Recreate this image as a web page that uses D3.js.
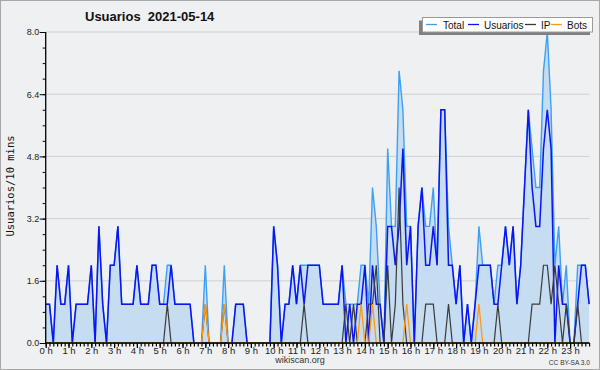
<!DOCTYPE html>
<html><head><meta charset="utf-8">
<script src="https://cdn.jsdelivr.net/npm/d3@7"></script>
<style>html,body{margin:0;padding:0;background:#fff}svg{display:block}</style>
</head><body>
<script>
const hourLabels = d3.range(24).map(h => h + " h");
const yTicks = [0, 1.6, 3.2, 4.8, 6.4, 8.0];
const seriesNames = ["Total", "Usuarios", "IP", "Bots"];

const total = [
1,1,0,2,1,1,2,0,1,1,
1,1,2,0,3,1,0,2,2,3,
1,1,1,1,2,1,1,1,2,2,
1,1,2,2,1,1,1,1,1,0,
0,0,2,0,0,0,0,2,0,0,
1,1,1,0,0,0,0,0,0,0,
3,2,0,1,1,2,1,2,2,2,
2,2,2,1,1,1,1,1,2,1,
1,1,1,2,2,1,4,3,1,0,
5,3,3,7,6,3,3,0,3,4,
3,3,4,2,6,6,3,2,1,2,
0,1,0,1,3,2,2,2,1,2,
2,3,2,3,1,2,4,6,5,4,
4,7,8,6,2,3,1,2,0,0,
2,2,2,1];
const usuarios = [
1,1,0,2,1,1,2,0,1,1,
1,1,2,0,3,1,0,2,2,3,
1,1,1,1,2,1,1,1,2,2,
1,1,1,2,1,1,1,1,1,0,
0,0,0,0,0,0,0,0,0,0,
1,1,1,0,0,0,0,0,0,0,
3,2,0,1,1,2,1,2,1,2,
2,2,2,1,1,1,1,1,2,0,
1,0,1,1,2,0,2,1,1,0,
3,3,2,3,5,2,3,0,3,4,
2,2,3,2,6,6,2,2,1,2,
0,1,0,1,2,2,2,2,1,1,
2,3,2,3,1,2,4,6,4,3,
3,5,6,5,0,2,1,1,0,0,
1,2,2,1];
const ip = [
0,0,0,0,0,0,0,0,0,0,
0,0,0,0,0,0,0,0,0,0,
0,0,0,0,0,0,0,0,0,0,
0,0,1,0,0,0,0,0,0,0,
0,0,1,0,0,0,0,1,0,0,
0,0,0,0,0,0,0,0,0,0,
0,0,0,0,0,0,0,0,1,0,
0,0,0,0,0,0,0,0,0,1,
0,1,0,0,0,1,1,2,0,0,
2,0,1,4,1,0,0,0,0,0,
1,1,1,0,0,0,1,0,0,0,
0,0,0,0,0,0,0,0,0,1,
0,0,0,0,0,0,0,0,1,1,
1,2,2,1,2,1,0,1,0,0,
1,0,0,0];
const bots = [
0,0,0,0,0,0,0,0,0,0,
0,0,0,0,0,0,0,0,0,0,
0,0,0,0,0,0,0,0,0,0,
0,0,0,0,0,0,0,0,0,0,
0,0,1,0,0,0,0,1,0,0,
0,0,0,0,0,0,0,0,0,0,
0,0,0,0,0,0,0,0,0,0,
0,0,0,0,0,0,0,0,0,0,
0,0,0,1,0,0,1,0,0,0,
0,0,0,0,0,1,0,0,0,0,
0,0,0,0,0,0,0,0,0,0,
0,0,0,0,1,0,0,0,0,0,
0,0,0,0,0,0,0,0,0,0,
0,0,0,0,0,0,0,0,0,0,
0,0,0,0];

const W = 600, H = 370;
const svg = d3.select("body").append("svg").attr("width", W).attr("height", H);
svg.append("rect").attr("x",0.5).attr("y",0.5).attr("width",W-1).attr("height",H-1)
  .attr("fill","#eff0f2").attr("stroke","#a8a8a8");

const x = d3.scaleLinear().domain([0, 143]).range([45.7, 589.1]);
const y = d3.scaleLinear().domain([0, 8]).range([343, 32]);

// gridlines
svg.append("g").selectAll("line").data(yTicks.filter(v => v > 0)).join("line")
  .attr("x1", 46).attr("x2", 589.5).attr("y1", d => y(d)).attr("y2", d => y(d))
  .attr("stroke", "#cfd0d3").attr("stroke-width", 1);

const idx = d3.range(total.length);
const area = d3.area().x(i => x(i)).y0(y(0)).y1(i => y(total[i]));
svg.append("path").datum(idx).attr("d", area).attr("fill", "#c6dcf0");

const mkLine = arr => d3.line().x(i => x(i)).y(i => y(arr[i]));
const series = [
  {arr: total, color: "#3d9ff5", w: 1.4},
  {arr: usuarios, color: "#0a14f5", w: 1.5},
  {arr: ip, color: "#3a3a3a", w: 1.2},
  {arr: bots, color: "#ff9a10", w: 1.3}
];
series.forEach(s => {
  svg.append("path").datum(idx).attr("d", mkLine(s.arr)).attr("fill", "none")
    .attr("stroke", s.color).attr("stroke-width", s.w).attr("stroke-linejoin", "miter");
});

// Y axis
const yAxis = d3.axisLeft(y).tickValues(yTicks).tickSize(6).tickFormat(d3.format(".1f"));
const gy = svg.append("g").attr("transform", "translate(45.7,0)").call(yAxis);
gy.call(g => g.select(".domain").remove());
gy.selectAll("text").attr("font-family", "Liberation Sans, Arial, sans-serif").attr("font-size", 9).attr("fill", "#222").attr("x", -6.5);
const gym = svg.append("g").attr("transform", "translate(45.7,0)")
  .call(d3.axisLeft(y).tickValues(d3.range(0, 8.01, 0.4)).tickSize(3).tickFormat(""));
gym.select(".domain").remove();
svg.append("line").attr("x1", 45.7).attr("x2", 45.7).attr("y1", 32).attr("y2", 343).attr("stroke", "#000").attr("stroke-width", 1.3);

// X axis
const gxm = svg.append("g").attr("transform", "translate(0,343)")
  .call(d3.axisBottom(x).tickValues(d3.range(0, 144)).tickSize(3.5).tickFormat(""));
gxm.select(".domain").remove();
gxm.selectAll("line").attr("stroke-width", 1.2);
const gx = svg.append("g").attr("transform", "translate(0,343)")
  .call(d3.axisBottom(x).tickValues(d3.range(0, 144, 6)).tickSize(5).tickFormat((d, i) => hourLabels[i]));
gx.select(".domain").remove();
gx.selectAll("line").attr("stroke-width", 1.2);
gx.selectAll("text").attr("font-family", "Liberation Sans, Arial, sans-serif").attr("font-size", 9.5).attr("fill", "#222").attr("y", 4).attr("dy", "0.71em");
svg.append("line").attr("x1", 45.7).attr("x2", 589.5).attr("y1", 343).attr("y2", 343).attr("stroke", "#000").attr("stroke-width", 1.5);

// Title
svg.append("text").attr("x", 85).attr("y", 20.6).attr("font-family", "Liberation Sans, Arial, sans-serif")
  .attr("font-weight", "bold").attr("font-size", 13).attr("fill", "#111").style("white-space", "pre")
  .text("Usuarios  2021-05-14");

// Y label
svg.append("text").attr("transform", "translate(13.5,186) rotate(-90)").attr("text-anchor", "middle")
  .attr("font-family", "DejaVu Sans Mono, monospace").attr("font-size", 10.5).attr("fill", "#111")
  .text("Usuarios/10 mins");

// footer
svg.append("text").attr("x", 300).attr("y", 363).attr("text-anchor", "middle")
  .attr("font-family", "Liberation Sans, Arial, sans-serif").attr("font-size", 9).attr("fill", "#333").text("wikiscan.org");
svg.append("text").attr("x", 590).attr("y", 365).attr("text-anchor", "end")
  .attr("font-family", "Liberation Sans, Arial, sans-serif").attr("font-size", 6.6).attr("fill", "#333").text("CC BY-SA 3.0");

// Legend
const lg = svg.append("g");
lg.append("rect").attr("x", 419).attr("y", 20.5).attr("width", 171).attr("height", 14.5).attr("fill", "#808080");
lg.append("rect").attr("x", 422.5).attr("y", 17.5).attr("width", 170).attr("height", 14.5).attr("fill", "#fff").attr("stroke", "#9a9a9a");
const legendX = [[426, 443], [468, 484], [525, 541], [551, 567]];
seriesNames.forEach((n, i) => {
  lg.append("line").attr("x1", legendX[i][0]).attr("x2", legendX[i][0] + 11).attr("y1", 24.5).attr("y2", 24.5)
    .attr("stroke", series[i].color).attr("stroke-width", 1.3);
  lg.append("text").attr("x", legendX[i][1]).attr("y", 28.6).attr("font-family", "Liberation Sans, Arial, sans-serif")
    .attr("font-size", 10).attr("fill", "#111").text(n);
});
</script>
</body></html>
